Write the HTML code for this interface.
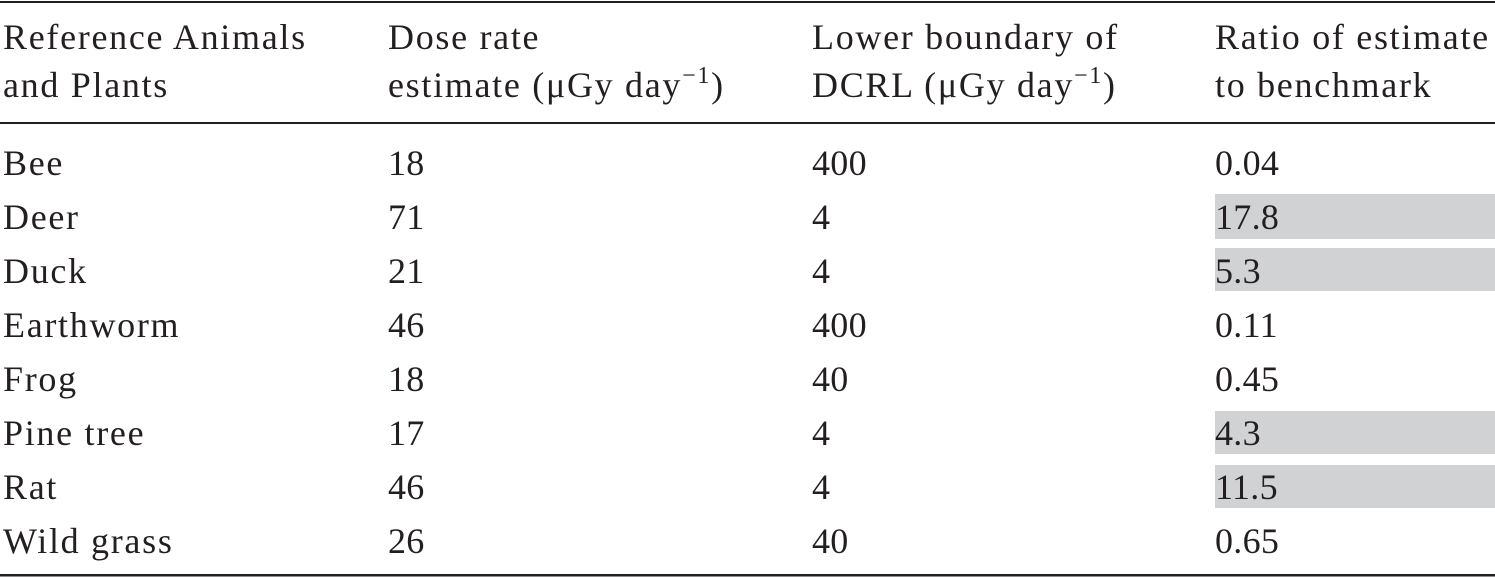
<!DOCTYPE html>
<html><head><meta charset="utf-8"><style>
html,body{margin:0;padding:0;background:#fff;}
svg{display:block;}
text{font-family:"Liberation Serif",serif;font-size:36px;fill:#231f20;letter-spacing:1.7px;}
text.n{letter-spacing:0.3px;}
</style></head><body>
<svg width="1495" height="578" viewBox="0 0 1495 578">
<rect x="0" y="1" width="1495" height="2" fill="#231f20"/>
<rect x="0" y="122" width="1495" height="2" fill="#231f20"/>
<rect x="0" y="574" width="1495" height="2.5" fill="#231f20"/>
<g fill="#d1d2d4">
<rect x="1215" y="194" width="280" height="45"/>
<rect x="1215" y="248" width="280" height="43"/>
<rect x="1215" y="411" width="280" height="43"/>
<rect x="1215" y="465" width="280" height="43"/>
</g>
<text x="3" y="49">Reference Animals</text>
<text x="3" y="97">and Plants</text>
<text x="388" y="49">Dose rate</text>
<text x="388" y="97">estimate (μGy day<tspan font-size="24" dy="-14">−1</tspan><tspan dy="14">)</tspan></text>
<text x="812" y="49">Lower boundary of</text>
<text x="812" y="97">DCRL (μGy day<tspan font-size="24" dy="-14">−1</tspan><tspan dy="14">)</tspan></text>
<text x="1215" y="49">Ratio of estimate</text>
<text x="1215" y="97">to benchmark</text>
<g>
<text x="3" y="175">Bee</text><text class="n" x="388" y="175">18</text><text class="n" x="812" y="175">400</text><text class="n" x="1215" y="175">0.04</text>
<text x="3" y="229">Deer</text><text class="n" x="388" y="229">71</text><text class="n" x="812" y="229">4</text><text class="n" x="1215" y="229">17.8</text>
<text x="3" y="283">Duck</text><text class="n" x="388" y="283">21</text><text class="n" x="812" y="283">4</text><text class="n" x="1215" y="283">5.3</text>
<text x="3" y="337">Earthworm</text><text class="n" x="388" y="337">46</text><text class="n" x="812" y="337">400</text><text class="n" x="1215" y="337">0.11</text>
<text x="3" y="391">Frog</text><text class="n" x="388" y="391">18</text><text class="n" x="812" y="391">40</text><text class="n" x="1215" y="391">0.45</text>
<text x="3" y="445">Pine tree</text><text class="n" x="388" y="445">17</text><text class="n" x="812" y="445">4</text><text class="n" x="1215" y="445">4.3</text>
<text x="3" y="499">Rat</text><text class="n" x="388" y="499">46</text><text class="n" x="812" y="499">4</text><text class="n" x="1215" y="499">11.5</text>
<text x="3" y="553">Wild grass</text><text class="n" x="388" y="553">26</text><text class="n" x="812" y="553">40</text><text class="n" x="1215" y="553">0.65</text>
</g>
</svg>
</body></html>
